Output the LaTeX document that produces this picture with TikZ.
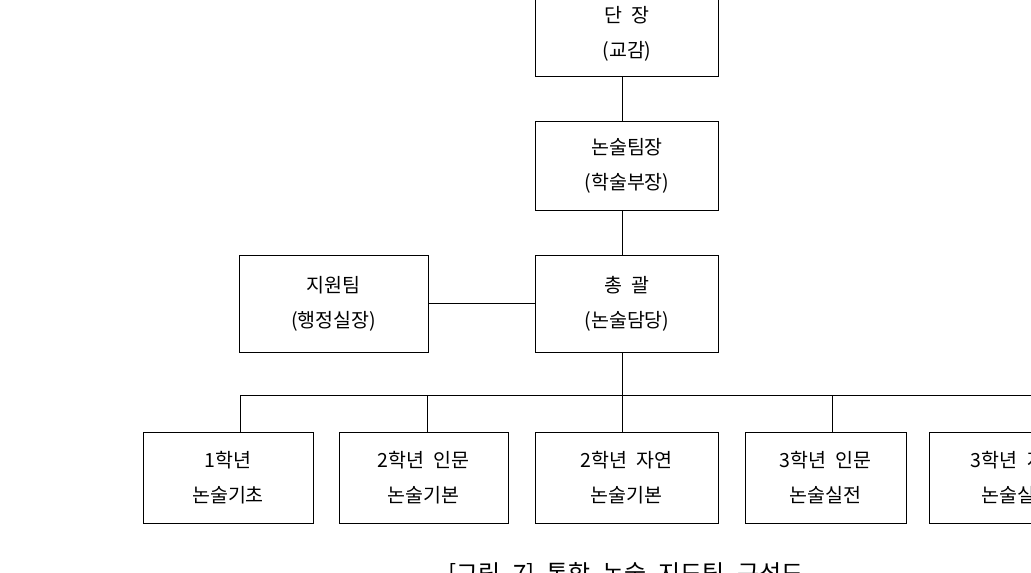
\documentclass[tikz,border=0pt]{standalone}
\usepackage{fontspec}
\setmainfont{Noto Sans CJK KR}
\usetikzlibrary{positioning}

\newcommand{\orgfont}{\fontsize{19.5}{35}\selectfont\spaceskip=0.5em plus 0.1em\relax}
\newcommand{\capfont}{\fontsize{24}{26}\selectfont\spaceskip=0.5em plus 0.1em\relax}

\begin{document}
\begin{tikzpicture}[
    x=1pt, y=-1pt,
    box/.style={rectangle, draw, line width=0.8pt, align=center, inner sep=0pt,
                font=\orgfont},
    topbox/.style={box, minimum width=183pt, minimum height=90pt},
    midbox/.style={box, minimum height=97pt},
    grade/.style={box, minimum height=91pt},
    link/.style={line width=0.8pt}
]

\useasboundingbox (0,0) rectangle (1031,573);

% Upper chain
\node[topbox, minimum height=84pt] (dan) at (627,34) {단 장\\(교감)};
\node[topbox, minimum height=89pt] (team) at (627,165.5) {논술팀장\\(학술부장)};
\node[midbox, minimum width=183pt] (chong) at (627,303.5) {총 괄\\(논술담당)};
\node[midbox, minimum width=189pt] (jiwon) at (333.5,303.5) {지원팀\\(행정실장)};

% Grade teams
\node[grade, minimum width=170pt] (g1) at (228,477.5) {1학년\\논술기초};
\node[grade, minimum width=169pt] (g2) at (423.5,477.5) {2학년 인문\\논술기본};
\node[grade, minimum width=183pt] (g3) at (626.5,477.5) {2학년 자연\\논술기본};
\node[grade, minimum width=161pt] (g4) at (825.5,477.5) {3학년 인문\\논술실전};
\node[grade, minimum width=175pt] (g5) at (1017,477.5) {3학년 자연\\논술실전};

% Bus
\coordinate (bus) at (622,395);

% Connections
\draw[link] (dan.south -| bus) -- (team.north -| bus);
\draw[link] (team.south -| bus) -- (chong.north -| bus);
\draw[link] (chong.south -| bus) -- (bus);
\draw[link] (jiwon.east) -- (chong.west);
\draw[link] ([xshift=12]g1.north |- bus) -- ([xshift=22]g5.north |- bus);
\foreach \i/\dx in {1/12,2/4,3/-4,4/7,5/22} {
    \draw[link] ([xshift=\dx]g\i.north) -- ([xshift=\dx]g\i.north |- bus);
}

% Caption
\node[anchor=north, inner sep=0pt, font=\capfont] (cap) at (626,562)
    {[그림 7] 통합 논술 지도팀 구성도};

\end{tikzpicture}
\end{document}
